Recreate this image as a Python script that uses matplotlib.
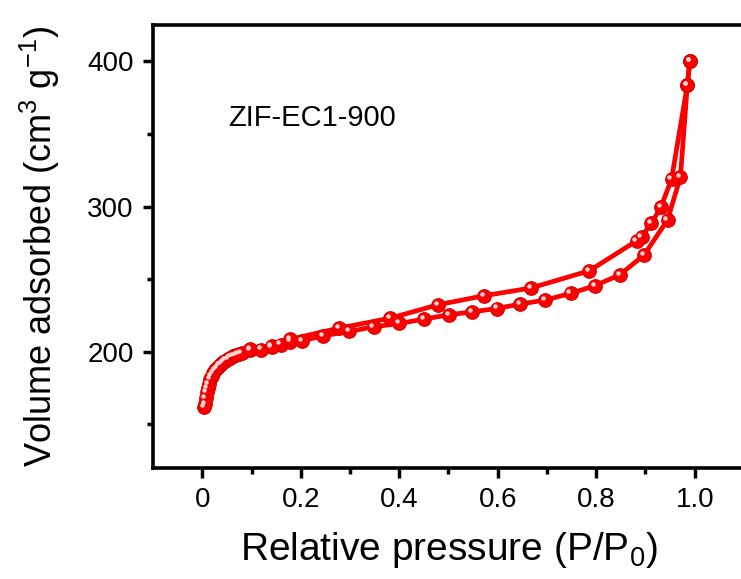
import matplotlib.pyplot as plt
from matplotlib.ticker import MultipleLocator, FixedLocator
from matplotlib.transforms import ScaledTranslation

plt.rcParams['font.family'] = ['Liberation Sans', 'DejaVu Sans']
plt.rcParams['mathtext.fontset'] = 'custom'
plt.rcParams['mathtext.rm'] = 'Liberation Sans'
plt.rcParams['mathtext.it'] = 'Liberation Sans'

# Adsorption branch (lower)
ads_p = [0.004, 0.005, 0.007, 0.009, 0.011, 0.013, 0.016, 0.019, 0.022, 0.026,
         0.030, 0.034, 0.038, 0.042, 0.047, 0.052, 0.057, 0.062, 0.068, 0.074,
         0.080, 0.097, 0.119, 0.141, 0.159, 0.179, 0.202, 0.245, 0.298, 0.348,
         0.400, 0.450, 0.501, 0.548, 0.598, 0.646, 0.696, 0.748, 0.797, 0.848,
         0.897, 0.945, 0.971, 0.985, 0.990]
ads_v = [162.0, 164.0, 168.0, 172.0, 175.0, 178.0, 181.0, 183.5, 185.5, 187.5,
         189.0, 190.5, 191.7, 192.8, 194.0, 195.0, 196.0, 196.8, 197.6, 198.4,
         199.3, 201.0, 201.5, 203.4, 205.0, 207.0, 207.5, 211.0, 214.0, 217.2,
         219.5, 222.5, 225.5, 227.5, 229.8, 232.9, 235.6, 240.2, 245.5, 253.0,
         266.6, 290.9, 320.5, 383.7, 400.0]

# Desorption branch (upper)
des_p = [0.990, 0.985, 0.953, 0.931, 0.912, 0.892, 0.882, 0.786, 0.667, 0.572,
         0.479, 0.382, 0.278, 0.179, 0.141, 0.097]
des_v = [400.0, 383.7, 318.9, 299.4, 288.4, 279.2, 276.4, 255.8, 243.9, 238.6,
         232.4, 223.2, 216.3, 208.7, 204.0, 202.0]

fig = plt.figure(figsize=(7.41, 5.79), dpi=100)
ax = fig.add_axes([0.2065, 0.1917, 0.7975, 0.7651])

red = '#ff0000'
for p, v in [(ads_p, ads_v), (des_p, des_v)]:
    ax.plot(p, v, '-', color=red, lw=3.4, zorder=2)
    ax.plot(p, v, 'o', color=red, ms=9.8, mec='#d80000', mew=0.8, zorder=3)
    hl = ax.transData + ScaledTranslation(-1.6 / 72, 1.6 / 72, fig.dpi_scale_trans)
    ax.plot(p, v, 'o', color='#ffd6d6', ms=3.2, mew=0, transform=hl, zorder=4)

ax.set_xlim(-0.1, 1.1)
ax.set_ylim(120, 425)

ax.xaxis.set_major_locator(FixedLocator([0, 0.2, 0.4, 0.6, 0.8, 1.0]))
ax.set_xticklabels(['0', '0.2', '0.4', '0.6', '0.8', '1.0'])
ax.xaxis.set_minor_locator(FixedLocator([0.1, 0.3, 0.5, 0.7, 0.9]))
ax.yaxis.set_major_locator(MultipleLocator(100))
ax.yaxis.set_minor_locator(FixedLocator([150, 250, 350]))

ax.tick_params(which='major', direction='out', length=7, width=2.5, labelsize=20, pad=7)
ax.tick_params(which='minor', direction='out', length=4, width=2.5)
ax.tick_params(axis='y', which='both', right=False)
ax.tick_params(axis='x', which='both', top=False)
for s in ax.spines.values():
    s.set_linewidth(2.6)

ax.set_xlabel('Relative pressure (P/P$_0$)', fontsize=28, labelpad=12)
ax.set_ylabel('Volume adsorbed (cm$^3$ g$^{-1}$)', fontsize=26, labelpad=18)

ax.text(0.052, 361, 'ZIF-EC1-900', fontsize=21, va='center', ha='left')

fig.savefig('out.png', dpi=100)
